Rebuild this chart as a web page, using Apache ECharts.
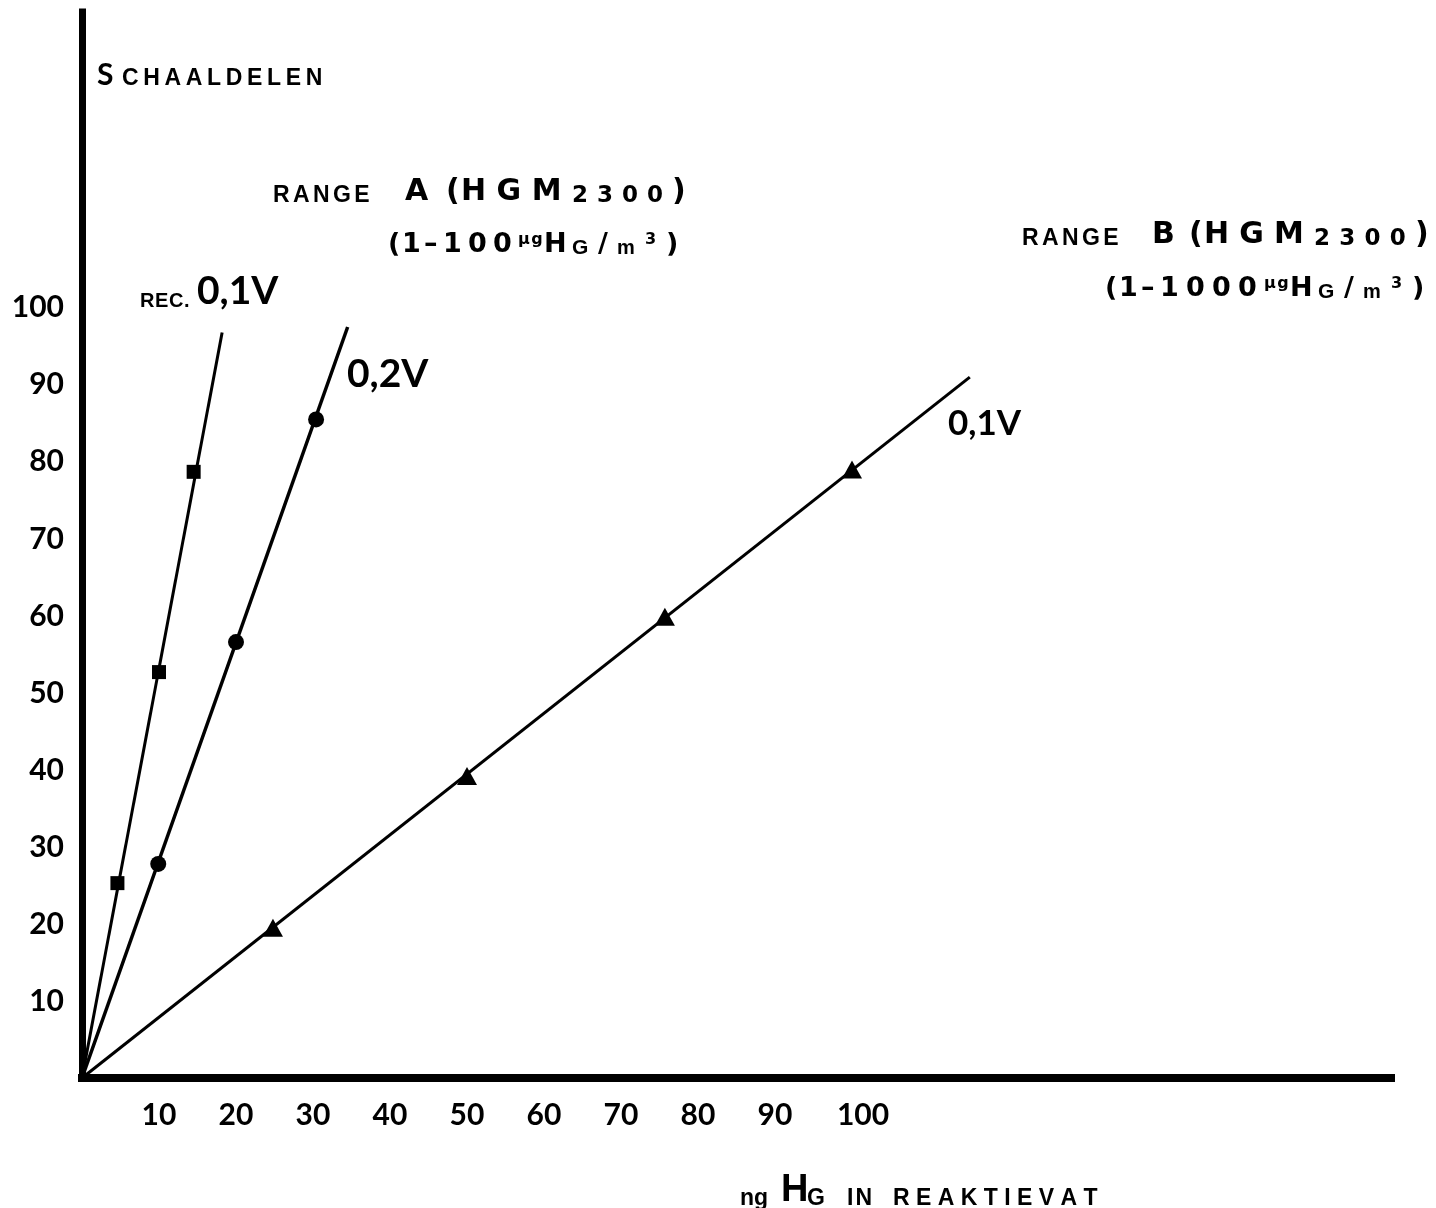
<!DOCTYPE html>
<html>
<head>
<meta charset="utf-8">
<title>Schaaldelen</title>
<script src="https://cdn.jsdelivr.net/npm/echarts@6/dist/echarts.min.js"></script>
<style>
  html, body { margin: 0; padding: 0; background: #fff; }
  #chart { width: 1436px; height: 1208px; }
</style>
</head>
<body>
<div id="chart"></div>
<script>
  // ng Hg (x) tegen schaaldelen (y)
  var rec01Points = [[4.6, 25.3], [10, 52.7], [14.5, 78.7]];
  var rangeA02Points = [[9.9, 27.8], [20, 56.6], [30.4, 85.5]];
  var rangeB01Points = [[24.8, 19.5], [50, 39.2], [75.7, 59.9], [100, 79]];

  // getrokken lijnen door de oorsprong
  var rec01Line = [[0, 0], [18.2, 96.8]];
  var rangeA02Line = [[0, 0], [34.5, 97.5]];
  var rangeB01Line = [[0, 0], [115.3, 91]];

  var xTickLabels = [10, 20, 30, 40, 50, 60, 70, 80, 90, 100];
  var yTickLabels = [10, 20, 30, 40, 50, 60, 70, 80, 90, 100];

  var BIG = "Lato, 'Noto Sans', sans-serif";
  var WIDE = "'DejaVu Sans', Lato, sans-serif";
  var SMALL = "'Liberation Sans Narrow', 'Liberation Sans', Arial, sans-serif";

  var fonts = {
    big: { fontFamily: WIDE, fontSize: 30 },
    big2: { fontFamily: WIDE, fontSize: 27 },
    med: { fontFamily: WIDE, fontSize: 23 },
    lato: { fontFamily: BIG, fontSize: 30 },
    volt: { fontFamily: BIG, fontSize: 39 },
    volt2: { fontFamily: BIG, fontSize: 35 },
    bigH: { fontFamily: SMALL, fontSize: 38 },
    small: { fontFamily: SMALL, fontSize: 23 },
    small2: { fontFamily: SMALL, fontSize: 21 },
    small3: { fontFamily: SMALL, fontSize: 20 },
    sm: { fontFamily: SMALL, fontSize: 20 },
    sup: { fontFamily: WIDE, fontSize: 16, verticalAlign: 'top' }
  };

  var measureCtx = document.createElement('canvas').getContext('2d');
  function textWidth(str, f) {
    measureCtx.font = (f.fontWeight || 'bold') + ' ' + f.fontSize + 'px ' + f.fontFamily;
    return measureCtx.measureText(str).width;
  }

  // parts: [font, tekst, x-start, heel?]; letters worden gelijkmatig gespatieerd tot het volgende stuk
  function textLine(baseline, parts, xEnd) {
    var rich = {};
    var text = '';
    var maxSize = 0;
    parts.forEach(function (p, i) {
      var f = fonts[p[0]];
      var next = i + 1 < parts.length ? parts[i + 1][2] : xEnd;
      var chars = p[3] ? [p[1]] : p[1].split('');
      var widths = chars.map(function (c) { return textWidth(c, f); });
      var total = widths.reduce(function (a, b) { return a + b; }, 0);
      var gap = (next - p[2] - total) / chars.length;
      if (!f.verticalAlign) maxSize = Math.max(maxSize, f.fontSize);
      chars.forEach(function (c, j) {
        var name = 't' + i + '_' + j;
        rich[name] = {
          fontFamily: f.fontFamily,
          fontSize: f.fontSize,
          fontWeight: f.fontWeight || 'bold',
          lineHeight: f.fontSize,
          verticalAlign: f.verticalAlign || 'bottom',
          align: 'left',
          color: '#000',
          width: widths[j] + gap
        };
        text += '{' + name + '|' + c + '}';
      });
    });
    return {
      type: 'text',
      x: parts[0][2],
      y: baseline - 0.32 * maxSize,
      style: { text: text, rich: rich, align: 'left', verticalAlign: 'middle' }
    };
  }

  var chartDom = document.getElementById('chart');
  var myChart = echarts.init(chartDom);
  var option;

  option = {
    backgroundColor: '#fff',
    animation: false,
    grid: {
      left: 82,
      right: 45,
      top: 12,
      bottom: 130
    },
    xAxis: {
      type: 'value',
      min: 0,
      max: 170,
      interval: 10,
      offset: 5,
      axisLine: { lineStyle: { color: '#000', width: 8, cap: 'square' } },
      axisTick: { show: false },
      splitLine: { show: false },
      axisLabel: {
        margin: 17,
        fontFamily: BIG,
        fontWeight: 'bold',
        fontSize: 30,
        color: '#000',
        formatter: function (v) {
          if (xTickLabels.indexOf(v) < 0) return '';
          return v === 100 ? '{c|' + v + '}' : String(v);
        },
        rich: {
          c: { fontFamily: BIG, fontWeight: 'bold', fontSize: 30, color: '#000', padding: [0, 0, 0, 22] }
        }
      }
    },
    yAxis: {
      type: 'value',
      min: 0,
      max: 138.4,
      interval: 10,
      offset: 4,
      axisLine: { lineStyle: { color: '#000', width: 7, cap: 'square' } },
      axisTick: { show: false },
      splitLine: { show: false },
      axisLabel: {
        margin: 14,
        fontFamily: BIG,
        fontWeight: 'bold',
        fontSize: 30,
        color: '#000',
        formatter: function (v) {
          return yTickLabels.indexOf(v) < 0 ? '' : String(v);
        }
      }
    },
    graphic: [
      textLine(85, [['lato', 'S', 97], ['small', 'CHAALDELEN', 122]], 327),
      textLine(202, [
        ['small', 'RANGE', 273], ['small', ' ', 373], ['big', 'A', 405], ['big', '(', 446],
        ['big', 'HGM', 461], ['med', '2300', 572], ['big', ')', 672]
      ], 688),
      textLine(254, [
        ['big2', '(', 388], ['big2', '1', 402], ['big2', '\u2013', 424], ['big2', '100', 443],
        ['sup', '\u00b5g', 518], ['big2', 'H', 544], ['small2', 'G', 572],
        ['big2', '/', 598], ['sm', 'm', 617], ['sup', '3', 645], ['big2', ')', 666]
      ], 682),
      textLine(245, [
        ['small', 'RANGE', 1022], ['small', ' ', 1122], ['big', 'B', 1152], ['big', '(', 1189],
        ['big', 'HGM', 1204], ['med', '2300', 1314], ['big', ')', 1415]
      ], 1432),
      textLine(298, [
        ['big2', '(', 1105], ['big2', '1', 1119], ['big2', '\u2013', 1141], ['big2', '1000', 1160],
        ['sup', '\u00b5g', 1264], ['big2', 'H', 1290], ['small2', 'G', 1318],
        ['big2', '/', 1344], ['sm', 'm', 1363], ['sup', '3', 1391], ['big2', ')', 1412]
      ], 1428),
      textLine(304, [['small3', 'REC.', 140], ['small3', ' ', 190], ['volt', '0,1V', 197, true]], 290),
      textLine(387, [['volt', '0,2V', 347, true]], 430),
      textLine(435, [['volt2', '0,1V', 948, true]], 1020),
      textLine(1203, [
        ['small', 'ng', 740, true], ['bigH', 'H', 781], ['small', 'G', 807], ['small', ' ', 830],
        ['small', 'IN', 847], ['small', ' ', 874], ['small', 'REAKTIEVAT', 893]
      ], 1104)
    ],
    series: [
      {
        name: 'rec01Line',
        type: 'line',
        data: rec01Line,
        showSymbol: false,
        lineStyle: { color: '#000', width: 3 },
        z: 2
      },
      {
        name: 'rangeA02Line',
        type: 'line',
        data: rangeA02Line,
        showSymbol: false,
        lineStyle: { color: '#000', width: 3.5 },
        z: 2
      },
      {
        name: 'rangeB01Line',
        type: 'line',
        data: rangeB01Line,
        showSymbol: false,
        lineStyle: { color: '#000', width: 3 },
        z: 2
      },
      {
        name: 'REC. 0,1V',
        type: 'scatter',
        data: rec01Points,
        symbol: 'rect',
        symbolSize: 14,
        itemStyle: { color: '#000', opacity: 1 },
        z: 3
      },
      {
        name: '0,2V',
        type: 'scatter',
        data: rangeA02Points,
        symbol: 'circle',
        symbolSize: 16,
        itemStyle: { color: '#000', opacity: 1 },
        z: 3
      },
      {
        name: '0,1V',
        type: 'scatter',
        data: rangeB01Points,
        symbol: 'triangle',
        symbolSize: [20, 18],
        itemStyle: { color: '#000', opacity: 1 },
        z: 3
      }
    ]
  };

  option && myChart.setOption(option);
</script>
</body>
</html>
